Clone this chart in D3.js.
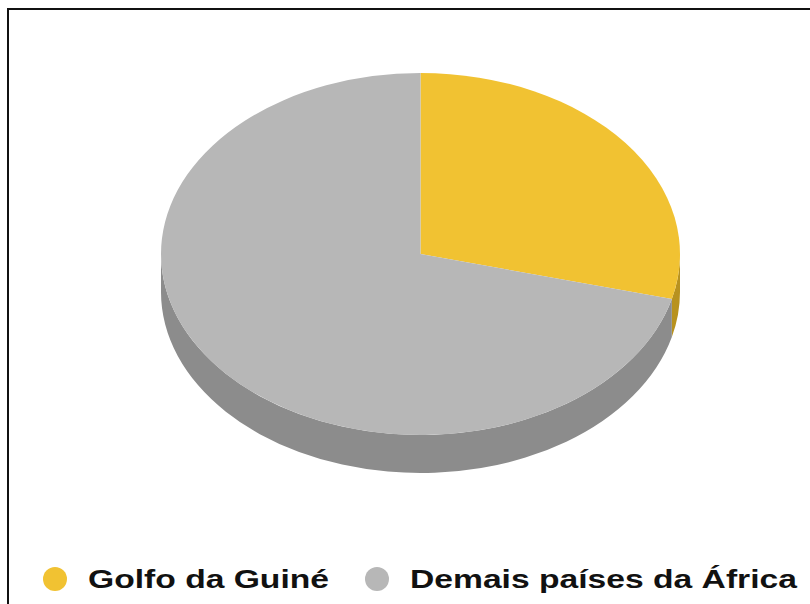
<!DOCTYPE html>
<html>
<head>
<meta charset="utf-8">
<script src="https://cdn.jsdelivr.net/npm/d3@7"></script>
<style>
  html, body { margin: 0; padding: 0; background: #fff; }
  svg { display: block; }
</style>
</head>
<body>
<svg id="chart" width="810" height="604"></svg>
<script>
// Share of the total, by region
const categories = ["Golfo da Guiné", "Demais países da África"];
const values = [29, 71];
const topColors = ["#F1C232", "#B7B7B7"];
const sideColors = ["#B8921F", "#8C8C8C"];

const svg = d3.select("#chart");
const W = 810, H = 604;

// frame (only top and left edges fall inside the page)
svg.append("rect")
  .attr("x", 8).attr("y", 9)
  .attr("width", 830).attr("height", 620)
  .attr("fill", "none").attr("stroke", "#111").attr("stroke-width", 2);

// tilted pie geometry
const cx = 420.5, cy = 254, rx = 259.5, ry = 181, depth = 38;
const pt = (a, dy = 0) => [cx + rx * Math.sin(a), cy - ry * Math.cos(a) + dy];

const pie = d3.pie().sort(null).value(d => d)
  .startAngle(0).endAngle(2 * Math.PI);
const arcs = pie(values);

const g = svg.append("g");

// side walls: only the front half (angles between PI/2 and 3PI/2) is visible
arcs.forEach((d, i) => {
  const s0 = Math.max(d.startAngle, Math.PI / 2);
  const s1 = Math.min(d.endAngle, 3 * Math.PI / 2);
  if (s1 <= s0) return;
  const [x0, y0] = pt(s0), [x1, y1] = pt(s1);
  const [bx0, by0] = pt(s0, depth), [bx1, by1] = pt(s1, depth);
  const large = (s1 - s0) > Math.PI ? 1 : 0;
  const p = `M${x0},${y0} A${rx},${ry} 0 ${large} 1 ${x1},${y1} ` +
            `L${bx1},${by1} A${rx},${ry} 0 ${large} 0 ${bx0},${by0} Z`;
  g.append("path").attr("d", p).attr("fill", sideColors[i]);
});

// top faces
arcs.forEach((d, i) => {
  const [x0, y0] = pt(d.startAngle), [x1, y1] = pt(d.endAngle);
  const large = (d.endAngle - d.startAngle) > Math.PI ? 1 : 0;
  const p = `M${cx},${cy} L${x0},${y0} A${rx},${ry} 0 ${large} 1 ${x1},${y1} Z`;
  g.append("path").attr("d", p).attr("fill", topColors[i]);
});

// legend
const legendX = [55, 377];
const legend = svg.append("g");
categories.forEach((c, i) => {
  legend.append("circle")
    .attr("cx", legendX[i]).attr("cy", 579).attr("r", 12)
    .attr("fill", topColors[i]);
  legend.append("text")
    .attr("transform", `translate(${legendX[i] + 33},588) scale(1.27,1)`)
    .attr("font-family", "Liberation Sans, Arial, sans-serif")
    .attr("font-weight", "bold")
    .attr("font-size", 26.5)
    .attr("fill", "#111")
    .text(c);
});
</script>
</body>
</html>
